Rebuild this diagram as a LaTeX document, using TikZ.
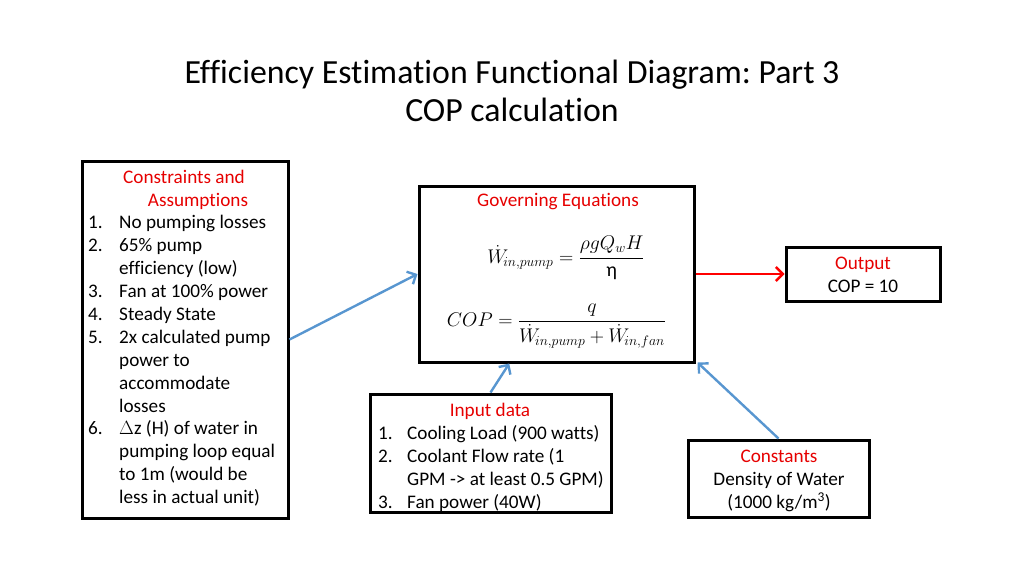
\RequirePackage{fix-cm}
\documentclass[tikz,border=0pt]{standalone}
\usepackage{fontspec}
\usepackage{amsmath}
\setmainfont[Ligatures=NoCommon]{Carlito}
\frenchspacing
\usetikzlibrary{arrows.meta,calc}
\definecolor{arrblue}{RGB}{88,150,208}
\definecolor{hdred}{RGB}{230,0,0}
\tikzset{
  box/.style={draw=black,line width=3pt,rectangle,inner sep=0pt},
  txt/.style={inner sep=0pt,anchor=base west,font=\fontsize{19.2}{23}\selectfont},
  ctxt/.style={inner sep=0pt,anchor=base,font=\fontsize{19.2}{23}\selectfont},
  hd/.style={ctxt,text=hdred},
  ttl/.style={inner sep=0pt,anchor=base,font=\fontsize{33.8}{38}\selectfont},
  eqn/.style={inner sep=0pt,font=\fontsize{19.8}{23}\selectfont},
  bluearrow/.style={draw=arrblue,line width=2.4pt,-{Straight Barb[length=7pt,width=14pt,line width=2.4pt]}},
  redarrow/.style={draw=red,line width=2.4pt,-{Straight Barb[length=7pt,width=14pt,line width=2.4pt]}}
}
\begin{document}
\begin{tikzpicture}[x=1pt,y=-1pt]
\useasboundingbox (0,0) rectangle (1024,576);
% title
\node[ttl] (t1) at (512,83) {Efficiency Estimation Functional Diagram: Part 3};
\node[ttl] (t2) at (512,121) {COP calculation};
% boxes
\node[box,minimum width=206pt,minimum height=357pt] (cons) at (185,339.5) {};
\node[box,minimum width=275pt,minimum height=176pt] (gov) at (556.5,274) {};
\node[box,minimum width=154pt,minimum height=54pt] (out) at (863,274) {};
\node[box,minimum width=241pt,minimum height=118pt] (inp) at (490.5,453) {};
\node[box,minimum width=181pt,minimum height=77pt] (cst) at (778.5,478.5) {};
% constraints text
\node[hd] (ch1) at (184,183) {Constraints and};
\node[hd] (ch2) at (198,206) {Assumptions};
\foreach \n/\t/\r in {1./No pumping losses/0, 2./65\% pump/1, /efficiency (low)/2,
  3./Fan at 100\% power/3, 4./Steady State/4, 5./2x calculated pump/5, /power to/6,
  /accommodate/7, /losses/8, 6./$\Delta$z (H) of water in/9, /pumping loop equal/10,
  /to 1m (would be/11, /less in actual unit)/12}{
  \node[txt] (cn\r) at (88,228.8+22.9*\r) {\n};
  \node[txt] (ct\r) at (119,228.8+22.9*\r) {\t};
}
% governing equations
\node[hd] (gh) at (558,206) {Governing Equations};
\node[eqn] (eq1) at (566,258)
  {$\displaystyle \dot{W}_{\!in,pump}=\frac{\rho g Q_w H}{\text{η}}$};
\node[eqn] (eq2) at (556.5,326)
  {$\displaystyle COP=\frac{q}{\dot{W}_{\!in,pump}+\dot{W}_{\!in,fan}}$};
% output
\node[hd] (oh) at (863,269) {Output};
\node[ctxt] (ot) at (863,292) {COP = 10};
% input data
\node[hd] (ih) at (490,416) {Input data};
\foreach \n/\t/\r in {1./Cooling Load (900 watts)/0, 2./Coolant Flow rate (1/1,
  /GPM -> at least 0.5 GPM)/2, 3./Fan power (40W)/3}{
  \node[txt] (in\r) at (378,439+23*\r) {\n};
  \node[txt] (it\r) at (407,439+23*\r) {\t};
}
% constants
\node[hd] (kh) at (779,462) {Constants};
\node[ctxt] (k1) at (779,485) {Density of Water};
\node[ctxt] (k2) at (779,508) {(1000 kg/m\textsuperscript{3})};
% connectors
\coordinate (govin) at ($(gov.south west)!0.33!(gov.south east)$);
\draw[bluearrow] (cons.east) -- (gov.west);
\draw[bluearrow] (inp.north) -- (govin);
\draw[bluearrow] (cst.north) -- ([xshift=2pt,yshift=1pt]gov.south east);
\draw[redarrow] (gov.east) -- (out.west);
\end{tikzpicture}
\end{document}
